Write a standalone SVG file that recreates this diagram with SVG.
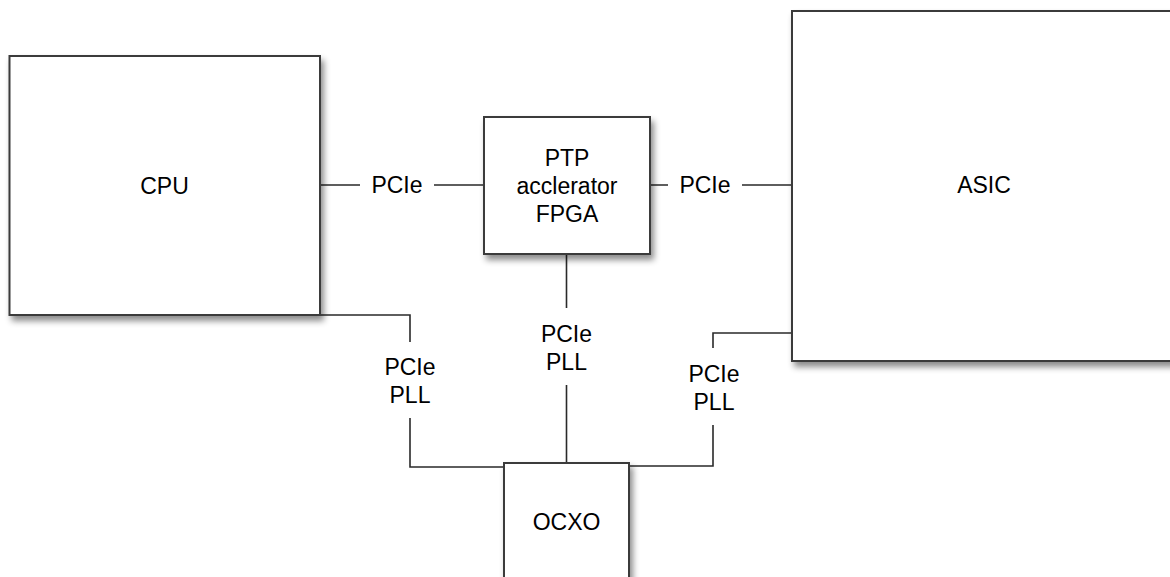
<svg xmlns="http://www.w3.org/2000/svg" width="1170" height="577" viewBox="0 0 1170 577">
<defs>
<filter id="sh" x="-10%" y="-10%" width="130%" height="130%">
<feDropShadow dx="3" dy="5" stdDeviation="3" flood-color="#000" flood-opacity="0.45"/>
</filter>
<style>
.box{fill:#fff;stroke:#3a3a3a;stroke-width:2;filter:url(#sh)}
.ln{fill:none;stroke:#2a2a2a;stroke-width:1.6}
.t{font-family:"Liberation Sans",Arial,sans-serif;font-size:23px;fill:#000;text-anchor:middle}
</style>
</defs>
<rect width="1170" height="577" fill="#fff"/>
<g id="connectors">
<path class="ln" d="M320 185H360M434 185H484"/>
<path class="ln" d="M650 185H668M742 185H792"/>
<path class="ln" d="M320 315H410V342M410 418V467H504"/>
<path class="ln" d="M566.5 254V308M566.5 385V463"/>
<path class="ln" d="M792 333H713V348M713 425V466H629"/>
<text class="t" x="397" y="193">PCIe</text>
<text class="t" x="705" y="193">PCIe</text>
<text class="t" x="410" y="375">PCIe</text>
<text class="t" x="410" y="403">PLL</text>
<text class="t" x="566.5" y="342">PCIe</text>
<text class="t" x="566.5" y="370">PLL</text>
<text class="t" x="714" y="382">PCIe</text>
<text class="t" x="714" y="410">PLL</text>
</g>
<g id="cpu">
<rect class="box" x="9.5" y="56" width="310.5" height="259"/>
<text class="t" x="164.5" y="194">CPU</text>
</g>
<g id="ptp">
<rect class="box" x="484" y="117" width="166" height="137"/>
<text class="t" x="567" y="166">PTP</text>
<text class="t" x="567" y="194">acclerator</text>
<text class="t" x="567" y="222">FPGA</text>
</g>
<g id="asic">
<rect class="box" x="792" y="11" width="384" height="350"/>
<text class="t" x="984" y="193">ASIC</text>
</g>
<g id="ocxo">
<rect class="box" x="504" y="463" width="125" height="130"/>
<text class="t" x="566.5" y="530">OCXO</text>
</g>
</svg>
